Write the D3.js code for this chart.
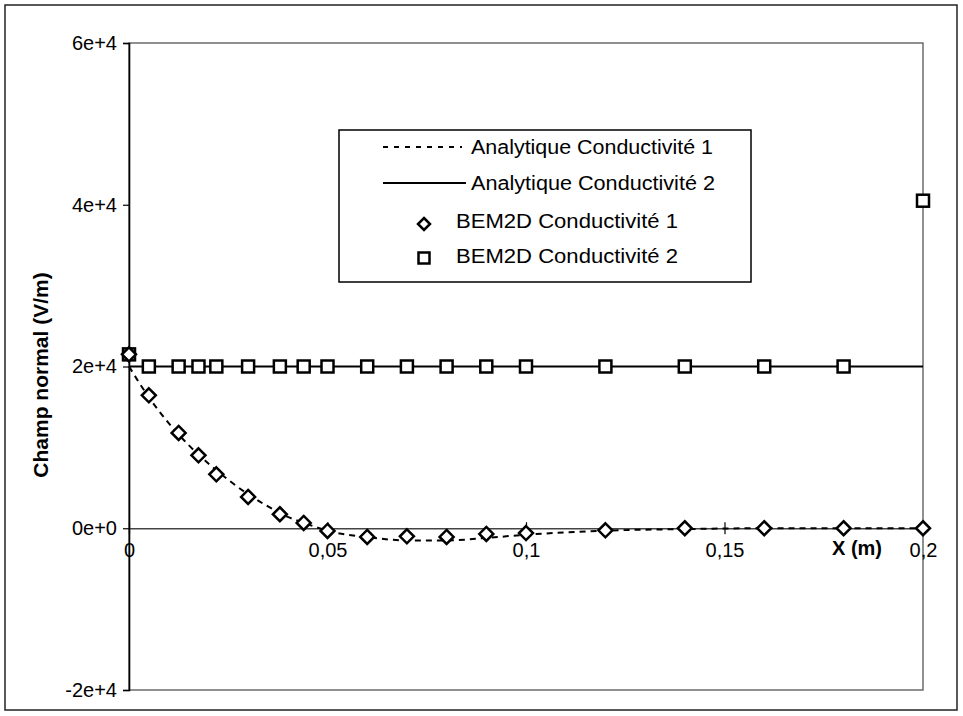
<!DOCTYPE html>
<html><head><meta charset="utf-8">
<script src="https://cdn.jsdelivr.net/npm/d3@7"></script>
<style>
html,body{margin:0;padding:0;background:#fff;}
svg{display:block;font-family:"Liberation Sans",Arial,Helvetica,sans-serif;}
</style></head>
<body>
<svg id="chart" width="963" height="716"></svg>
<script>
// ---- data ----
const bemX = [0, 0.005, 0.0125, 0.0175, 0.022, 0.03, 0.038, 0.044, 0.05, 0.06, 0.07, 0.08, 0.09, 0.1, 0.12, 0.14, 0.16, 0.18, 0.2];
const bemCond1 = [21500, 16440, 11780, 9020, 6670, 3870, 1730, 660, -330, -1080, -1000, -1080, -700, -600, -250, 0, 0, 0, 0];
const bemCond2 = [21500, 20000, 20000, 20000, 20000, 20000, 20000, 20000, 20000, 20000, 20000, 20000, 20000, 20000, 20000, 20000, 20000, 20000, 40500];
const anaX = [0, 0.005, 0.01, 0.015, 0.02, 0.025, 0.03, 0.035, 0.04, 0.045, 0.05, 0.06, 0.07, 0.08, 0.09, 0.1, 0.12, 0.14, 0.16, 0.18, 0.2];
const anaCond1 = [20000, 16200, 13000, 10300, 8000, 6000, 4200, 2700, 1400, 500, -300, -1100, -1500, -1500, -1200, -800, -300, -100, 0, 0, 0];
const anaCond2X = [0, 0.2];
const anaCond2 = [20000, 20000];
const xTicks = [0, 0.05, 0.1, 0.15, 0.2];
const xTickLabels = ["0", "0,05", "0,1", "0,15", "0,2"];
const yTicks = [-20000, 0, 20000, 40000, 60000];
const yTickLabels = ["-2e+4", "0e+0", "2e+4", "4e+4", "6e+4"];
const legendLabels = ["Analytique Conductivité 1", "Analytique Conductivité 2", "BEM2D Conductivité 1", "BEM2D Conductivité 2"];

// ---- layout ----
const svg = d3.select("#chart");
const L = 129, R = 923, T = 43, B = 690;
const x = d3.scaleLinear().domain([0, 0.2]).range([L, R]);
const y = d3.scaleLinear().domain([-20000, 60000]).range([B, T]);

// outer frame
svg.append("rect").attr("x", 5).attr("y", 5).attr("width", 952).attr("height", 705)
  .attr("fill", "none").attr("stroke", "#222").attr("stroke-width", 1.5);

// plot area border
svg.append("rect").attr("x", L).attr("y", T).attr("width", R - L).attr("height", B - T)
  .attr("fill", "none").attr("stroke", "#555").attr("stroke-width", 1.3);

// y axis
const yAxis = d3.axisLeft(y).tickValues(yTicks).tickFormat((d, i) => yTickLabels[i]).tickSize(6).tickPadding(6);
const gy = svg.append("g").attr("transform", `translate(${L},0)`).call(yAxis);
gy.select(".domain").attr("stroke", "#000").attr("stroke-width", 1.6);
gy.selectAll(".tick line").attr("stroke", "#000").attr("stroke-width", 1.2);
gy.selectAll(".tick text").attr("font-size", 20).attr("fill", "#000")
  .attr("font-family", "'Liberation Sans',Arial,sans-serif");

// x axis at y=0
const xAxis = d3.axisBottom(x).tickValues(xTicks).tickFormat((d, i) => xTickLabels[i]).tickSizeInner(5).tickSizeOuter(0).tickPadding(10);
const gx = svg.append("g").attr("transform", `translate(0,${y(0)})`).call(xAxis);
gx.select(".domain").attr("stroke", "#444").attr("stroke-width", 1.3);
gx.selectAll(".tick line").attr("y1", -6).attr("y2", 6).attr("stroke", "#000").attr("stroke-width", 1.2);
gx.selectAll(".tick text").attr("font-size", 20).attr("fill", "#000")
  .attr("font-family", "'Liberation Sans',Arial,sans-serif");

// axis titles
svg.append("text").attr("x", 857).attr("y", y(0) + 27).attr("text-anchor", "middle")
  .attr("font-size", 20).attr("font-weight", "bold").text("X (m)");
svg.append("text").attr("transform", `translate(48,375) rotate(-90)`).attr("text-anchor", "middle")
  .attr("font-size", 21).attr("font-weight", "bold").text("Champ normal (V/m)");

// lines
const line = d3.line().x(d => x(d[0])).y(d => y(d[1]));
svg.append("path").datum(anaCond2X.map((v, i) => [v, anaCond2[i]]))
  .attr("d", line).attr("fill", "none").attr("stroke", "#000").attr("stroke-width", 2);
svg.append("path").datum(anaX.map((v, i) => [v, anaCond1[i]]))
  .attr("d", line.curve(d3.curveMonotoneX)).attr("fill", "none").attr("stroke", "#000")
  .attr("stroke-width", 2).attr("stroke-dasharray", "6,5");

// markers
const sq = 12, dm = 7;
svg.append("g").selectAll("rect").data(bemX.map((v, i) => [v, bemCond2[i]])).join("rect")
  .attr("x", d => x(d[0]) - sq / 2).attr("y", d => y(d[1]) - sq / 2)
  .attr("width", sq).attr("height", sq).attr("fill", "#fff").attr("stroke", "#000").attr("stroke-width", 2.5);
svg.append("g").selectAll("path").data(bemX.map((v, i) => [v, bemCond1[i]])).join("path")
  .attr("d", d => { const cx = x(d[0]), cy = y(d[1]); return `M${cx},${cy - dm}L${cx + dm},${cy}L${cx},${cy + dm}L${cx - dm},${cy}Z`; })
  .attr("fill", "#fff").attr("stroke", "#000").attr("stroke-width", 2.5);

// legend
const lg = svg.append("g");
lg.append("rect").attr("x", 339).attr("y", 130).attr("width", 412).attr("height", 152)
  .attr("fill", "#fff").attr("stroke", "#000").attr("stroke-width", 1.5);
const rows = [147, 183, 221, 256];
lg.append("line").attr("x1", 383).attr("x2", 462).attr("y1", rows[0]).attr("y2", rows[0])
  .attr("stroke", "#000").attr("stroke-width", 2).attr("stroke-dasharray", "5,6");
lg.append("line").attr("x1", 383).attr("x2", 466).attr("y1", rows[1]).attr("y2", rows[1])
  .attr("stroke", "#000").attr("stroke-width", 2);
{
  const cx = 424, cy = rows[2] + 3;
  lg.append("path").attr("d", `M${cx},${cy - 6}L${cx + 6},${cy}L${cx},${cy + 6}L${cx - 6},${cy}Z`)
    .attr("fill", "#fff").attr("stroke", "#000").attr("stroke-width", 2.5);
  lg.append("rect").attr("x", 424 - 5.5).attr("y", rows[3] + 2 - 5.5).attr("width", 11).attr("height", 11)
    .attr("fill", "#fff").attr("stroke", "#000").attr("stroke-width", 2.5);
}
const tx = [471, 471, 456, 456];
const tl = [242, 244, 222, 222];
legendLabels.forEach((t, i) => {
  lg.append("text").attr("x", tx[i]).attr("y", rows[i] + 7).attr("font-size", 20)
    .attr("textLength", tl[i]).attr("lengthAdjust", "spacingAndGlyphs").text(t);
});
</script>
</body></html>
